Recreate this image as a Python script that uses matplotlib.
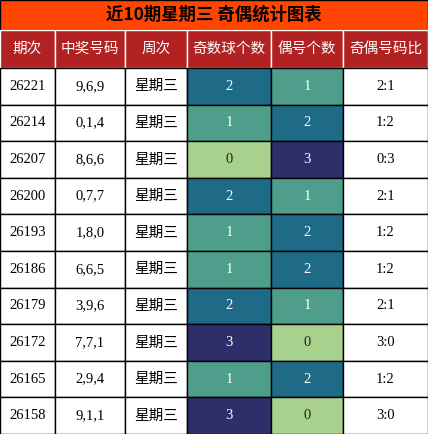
import matplotlib
matplotlib.use("Agg")
import matplotlib.pyplot as plt
from matplotlib.patches import Rectangle

plt.rcParams['font.family'] = ['Noto Sans CJK SC', 'DejaVu Sans']

title = "近10期星期三 奇偶统计图表"
headers = ["期次", "中奖号码", "周次", "奇数球个数", "偶号个数", "奇偶号码比"]
periods = ["26221", "26214", "26207", "26200", "26193", "26186", "26179", "26172", "26165", "26158"]
numbers = ["9,6,9", "0,1,4", "8,6,6", "0,7,7", "1,8,0", "6,6,5", "3,9,6", "7,7,1", "2,9,4", "9,1,1"]
weekday = ["星期三"] * 10
odd_counts = [2, 1, 0, 2, 1, 1, 2, 3, 1, 3]
even_counts = [1, 2, 3, 1, 2, 2, 1, 0, 2, 0]
ratios = ["2:1", "1:2", "0:3", "2:1", "1:2", "1:2", "2:1", "3:0", "1:2", "3:0"]

cell_colors = {0: "#a9d18e", 1: "#4e9e8b", 2: "#1f6a87", 3: "#2d2f6b"}
text_colors = {0: "#222222", 1: "white", 2: "white", 3: "white"}

W, H = 428, 434
fig = plt.figure(figsize=(W / 100, H / 100), dpi=100)
ax = fig.add_axes([0, 0, 1, 1])
ax.set_xlim(0, W)
ax.set_ylim(H, 0)
ax.axis("off")

cols = [0, 55, 125, 187, 271, 343, 428]
title_h, head_h = 30, 38
row_h = (H - title_h - head_h) / 10
lw = 1.0

ax.add_patch(Rectangle((0, 0), W, title_h, facecolor="#ff4500", edgecolor="black", lw=lw))
ax.text(W / 2, title_h / 2, title, ha="center", va="center", fontsize=12.5, fontweight="bold", color="black")

for j, h in enumerate(headers):
    x0, x1 = cols[j], cols[j + 1]
    ax.add_patch(Rectangle((x0, title_h), x1 - x0, head_h, facecolor="#b22222", edgecolor="white", lw=lw))
    ax.text((x0 + x1) / 2, title_h + head_h / 2, h, ha="center", va="center", fontsize=10.5, color="white")

for i in range(10):
    y0 = title_h + head_h + i * row_h
    vals = [periods[i], numbers[i], weekday[i], str(odd_counts[i]), str(even_counts[i]), ratios[i]]
    for j, v in enumerate(vals):
        x0, x1 = cols[j], cols[j + 1]
        fc, tc = "white", "black"
        if j == 3:
            fc, tc = cell_colors[odd_counts[i]], text_colors[odd_counts[i]]
        elif j == 4:
            fc, tc = cell_colors[even_counts[i]], text_colors[even_counts[i]]
        ax.add_patch(Rectangle((x0, y0), x1 - x0, row_h, facecolor=fc, edgecolor="black", lw=lw))
        fam = ['Liberation Serif', 'Noto Sans CJK SC'] if j != 2 else ['Noto Sans CJK SC']
        ax.text((x0 + x1) / 2, y0 + row_h / 2, v, ha="center", va="center", fontsize=10.5, color=tc, family=fam)

fig.savefig("out.png", dpi=100)
